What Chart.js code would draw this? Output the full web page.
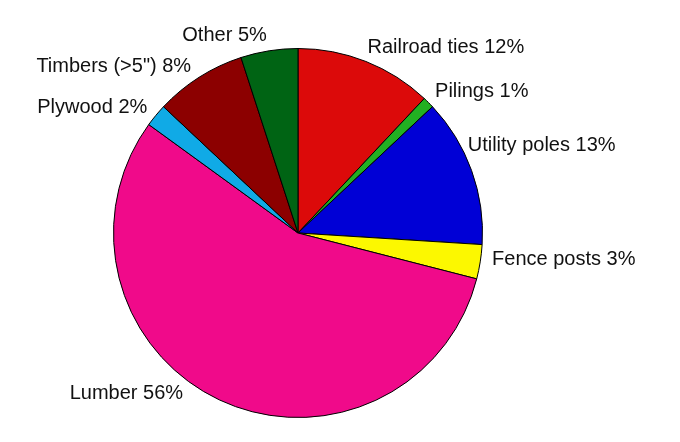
<!DOCTYPE html>
<html>
<head>
<meta charset="utf-8">
<script src="https://cdn.jsdelivr.net/npm/chart.js@4"></script>
<style>
  html, body { margin: 0; padding: 0; background: #fff; }
  #wrap { width: 680px; height: 442px; }
</style>
</head>
<body>
<div id="wrap"><canvas id="pie"></canvas></div>
<script>
// --- Data ---
const CATEGORIES = ['Railroad ties', 'Pilings', 'Utility poles', 'Fence posts', 'Lumber', 'Plywood', 'Timbers (>5")', 'Other'];
const SHARES = [12, 1, 13, 3, 56, 2, 8, 5];
const COLORS = ['#dc0a0a', '#22b022', '#0000d6', '#fcf800', '#f00a8a', '#10aae6', '#8c0000', '#006414'];

// small per-label nudges (px) where the original placed a label by hand
const LABEL_NUDGE = [[-4, 0], [-4, 0], [-18, -20], [-3, -5], [-30, -20], [3, 2], [0, 2], [0, 0]];

const labelPlugin = {
    id: 'outerLabels',
    afterDatasetsDraw(chart) {
        const ctx = chart.ctx;
        const meta = chart.getDatasetMeta(0);
        ctx.save();
        ctx.font = '20px "Liberation Sans", sans-serif';
        ctx.fillStyle = '#111';
        ctx.textBaseline = 'middle';
        meta.data.forEach((arc, i) => {
            const mid = (arc.startAngle + arc.endAngle) / 2;
            const r = arc.outerRadius + 15;
            const x = arc.x + Math.cos(mid) * r + LABEL_NUDGE[i][0];
            const y = arc.y + Math.sin(mid) * r + LABEL_NUDGE[i][1];
            ctx.textAlign = Math.cos(mid) >= 0 ? 'left' : 'right';
            ctx.fillText(`${CATEGORIES[i]} ${SHARES[i]}%`, x, y);
        });
        ctx.restore();
    }
};

new Chart(document.getElementById('pie'), {
    type: 'pie',
    data: {
        labels: CATEGORIES,
        datasets: [{
            data: SHARES,
            backgroundColor: COLORS,
            borderColor: '#000',
            borderWidth: 1
        }]
    },
    options: {
        responsive: true,
        maintainAspectRatio: false,
        animation: false,
        layout: { padding: { left: 113, right: 197, top: 48, bottom: 24 } },
        plugins: {
            legend: { display: false },
            tooltip: { enabled: false }
        }
    },
    plugins: [labelPlugin]
});
</script>
</body>
</html>
